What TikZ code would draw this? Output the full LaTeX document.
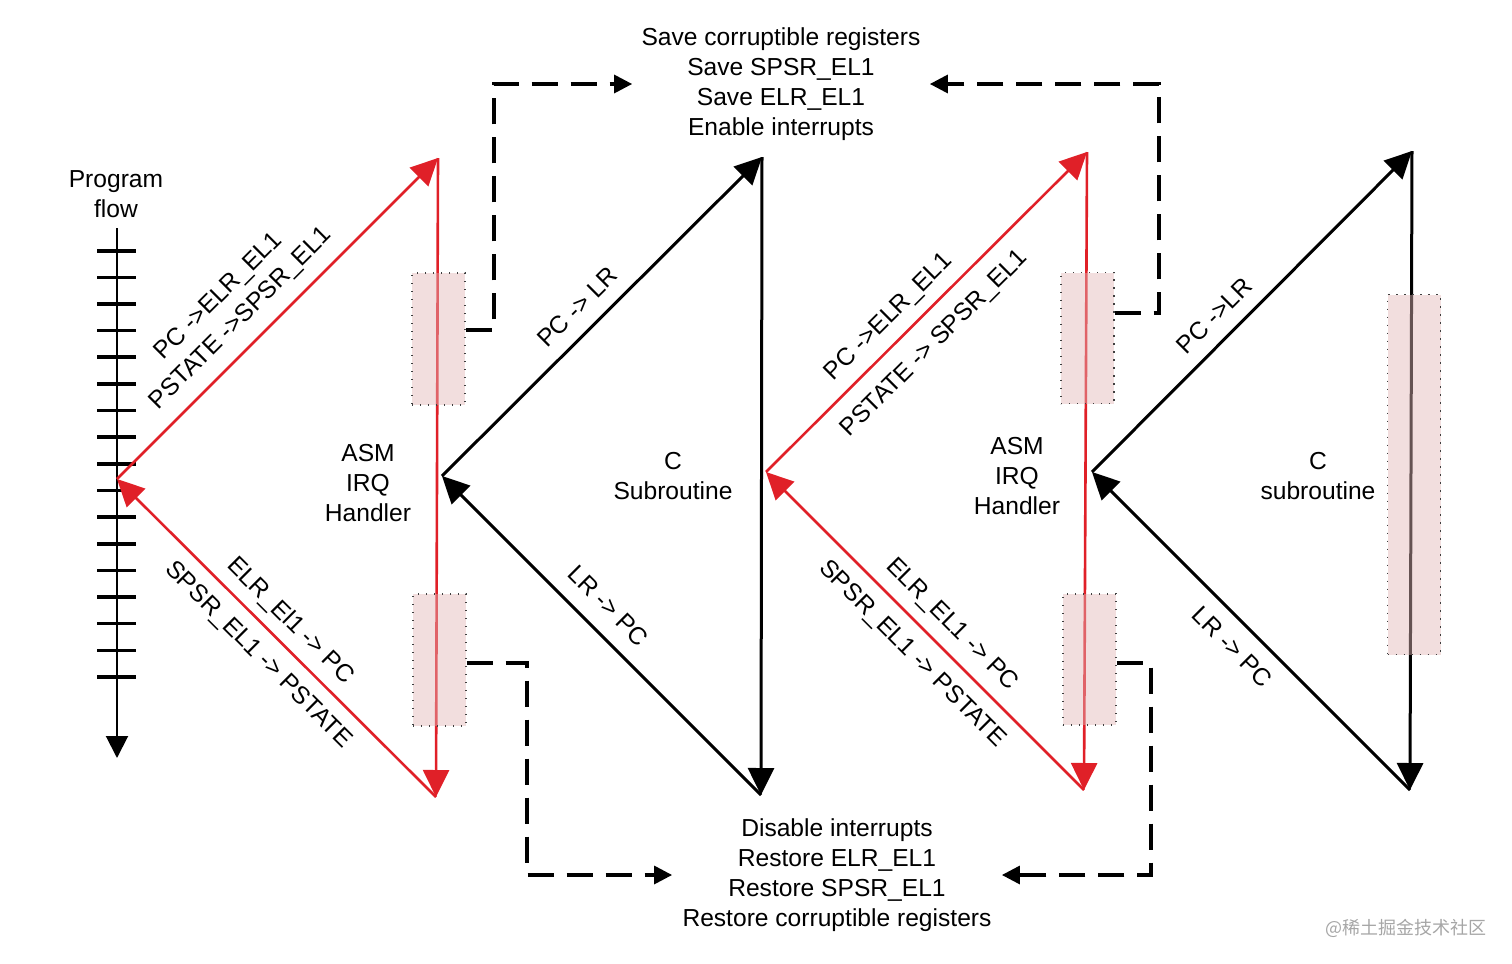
\documentclass[tikz,border=0pt]{standalone}
\usepackage{fontspec}
\setmainfont{Liberation Sans}
\newfontfamily\cjkfont{Noto Sans CJK SC}
\usetikzlibrary{arrows.meta}
\definecolor{myred}{RGB}{224,32,40}
\definecolor{hlfill}{RGB}{226,182,182}
\begin{document}
\begin{tikzpicture}[x=0.5pt,y=0.5pt,
  every node/.style={font=\fontsize{12.3}{15}\selectfont},
  redln/.style={draw=myred, line width=1.3pt},
  blkln/.style={draw=black, line width=1.5pt},
  bighead/.style={arrows={-Triangle[length=13.5pt,width=13pt]}},
  bigtail/.style={arrows={Triangle[length=13.5pt,width=13pt]-}},
  dashln/.style={draw=black, line width=1.6pt, dash pattern=on 13pt off 6.5pt, arrows={-Triangle[length=9pt,width=9pt]}},
  hl/.style={draw=black!75, line width=0.7pt, dash pattern=on 0.7pt off 3.3pt, fill=hlfill, fill opacity=0.45, draw opacity=1, minimum width=26.5pt, inner sep=0pt},
  lbl/.style={sloped, inner sep=0pt, text height=8.8pt, text depth=0pt},
  txt/.style={align=center, inner sep=4.5pt}
]
\useasboundingbox (0,0) rectangle (1512,-964);

% vertices
\coordinate (L1) at (117,-479);
\coordinate (T1) at (438,-158);
\coordinate (B1) at (436,-797);
\coordinate (L2) at (442,-476);
\coordinate (T2) at (762,-157);
\coordinate (B2) at (761,-795);
\coordinate (L3) at (766,-472);
\coordinate (T3) at (1087,-152);
\coordinate (B3) at (1084,-790);
\coordinate (L4) at (1092,-472);
\coordinate (T4) at (1412,-151);
\coordinate (B4) at (1410,-790);

% program flow axis
\node[txt, inner sep=0pt] (pf) at (116,-194) {Program\\flow};
\coordinate (ax0) at (117,-228);
\coordinate (ax1) at (117,-758);
\draw[line width=1pt, arrows={-Triangle[length=11pt,width=11pt]}] (ax0) -- (ax1);
\foreach \i in {0,...,16}
  \draw[line width=1.8pt] (97,{-250.7-26.64*\i}) -- (136,{-250.7-26.64*\i});

% red triangle 1
\draw[redln, bighead] (L1) -- (T1)
  node[lbl, above=24.6pt, pos=0.443] {PC ->ELR\_EL1}
  node[lbl, above=9pt, pos=0.443] {PSTATE ->SPSR\_EL1};
\draw[redln, bighead] (T1) -- (B1);
\draw[redln, bigtail] (L1) -- (B1)
  node[lbl, above=6.9pt, pos=0.495] {ELR\_El1 -> PC}
  node[lbl, below=6.2pt, pos=0.498] {SPSR\_EL1 -> PSTATE};

% black triangle 1
\draw[blkln, bighead] (L2) -- (T2)
  node[lbl, above=7.1pt, pos=0.476] {PC -> LR};
\draw[blkln, bighead] (T2) -- (B2);
\draw[blkln, bigtail] (L2) -- (B2)
  node[lbl, above=8pt, pos=0.464] {LR -> PC};

% red triangle 2
\draw[redln, bighead] (L3) -- (T3)
  node[lbl, above=7.6pt, pos=0.433] {PC ->ELR\_EL1}
  node[lbl, below=7.8pt, pos=0.463] {PSTATE -> SPSR\_EL1};
\draw[redln, bighead] (T3) -- (B3);
\draw[redln, bigtail] (L3) -- (B3)
  node[lbl, above=7.8pt, pos=0.532] {ELR\_EL1 -> PC}
  node[lbl, below=6.45pt, pos=0.516] {SPSR\_EL1 -> PSTATE};

% black triangle 2
\draw[blkln, bighead] (L4) -- (T4)
  node[lbl, above=7pt, pos=0.435] {PC ->LR};
\draw[blkln, bighead] (T4) -- (B4);
\draw[blkln, bigtail] (L4) -- (B4)
  node[lbl, below=6.9pt, pos=0.496] {LR -> PC};

% highlighted regions
\node[hl, minimum height=66pt] (hA) at (438.5,-339) {};
\node[hl, minimum height=66pt] (hB) at (439.5,-660) {};
\node[hl, minimum height=65.5pt] (hC) at (1087.5,-338) {};
\node[hl, minimum height=65.5pt] (hD) at (1089.5,-659.5) {};
\node[hl, minimum height=180pt] (hE) at (1414,-474.5) {};

% inner labels
\node[txt] (asm1) at (368,-483) {ASM\\IRQ\\Handler};
\node[txt] (csub1) at (673,-476) {C\\Subroutine};
\node[txt] (asm2) at (1017,-476) {ASM\\IRQ\\Handler};
\node[txt] (csub2) at (1318,-476) {C\\subroutine};

% top / bottom text
\node[txt] (topt) at (781,-84) {Save corruptible registers\\Save SPSR\_EL1\\Save ELR\_EL1\\Enable interrupts};
\node[txt, inner sep=5pt] (bott) at (837,-875) {Disable interrupts\\Restore ELR\_EL1\\Restore SPSR\_EL1\\Restore corruptible registers};

% dashed connectors
\draw[dashln] ([yshift=4.5pt]hA.east) -- (494,-330) -- (494,-84) -- (topt.west);
\draw[dashln] ([yshift=12.5pt]hC.east) -- (1159,-313) -- (1159,-84) -- (topt.east);
\draw[dashln] ([yshift=-1.5pt]hB.east) -- (527,-663) -- (527,-875) -- (bott.west);
\draw[dashln] ([yshift=-1.75pt]hD.east) -- (1151,-663) -- (1151,-875) -- (bott.east);

% watermark
\node[font=\cjkfont\fontsize{9}{11}\selectfont, text=black!35] (wm) at (1406,-928) {@稀土掘金技术社区};
\end{tikzpicture}
\end{document}
